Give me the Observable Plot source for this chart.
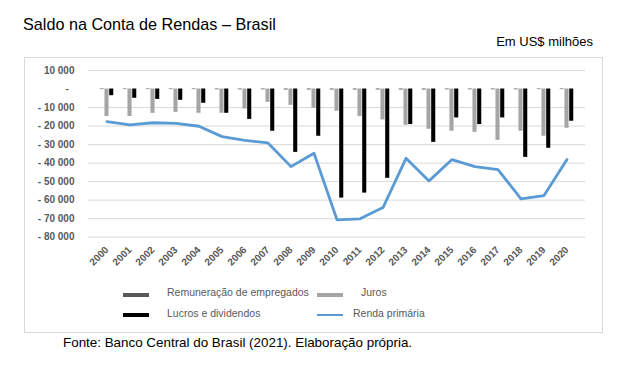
<!DOCTYPE html>
<html>
<head>
<meta charset="utf-8">
<script src="https://cdn.jsdelivr.net/npm/d3@7"></script>
<script src="https://cdn.jsdelivr.net/npm/@observablehq/plot@0.6"></script>
<style>
  html, body { margin: 0; padding: 0; background: #fff; }
  body { width: 624px; height: 367px; position: relative; overflow: hidden; font-family: "Liberation Sans", Arial, sans-serif; }
  .t { position: absolute; line-height: 1; white-space: nowrap; }
  .box { position: absolute; left: 24px; top: 57px; width: 577px; height: 274px; border: 1px solid #d9d9d9; }
  .sw { position: absolute; }
  #chart { position: absolute; left: 0; top: 57px; }
</style>
</head>
<body>
<div class="box"></div>
<div class="t" style="left:23px; top:15.5px; font-size:16.2px; color:#000;">Saldo na Conta de Rendas – Brasil</div>
<div class="t" style="right:31px; top:34.7px; font-size:13px; color:#000;">Em US$ milhões</div>
<div id="chart"></div>
<div id="legend"></div>
<div class="t" style="left:63px; top:335.5px; font-size:13.4px; color:#000;">Fonte: Banco Central do Brasil (2021). Elaboração própria.</div>
<script>
const years = ["2000","2001","2002","2003","2004","2005","2006","2007","2008","2009","2010","2011","2012","2013","2014","2015","2016","2017","2018","2019","2020"];
const seriesNames = ["Remuneração de empregados", "Juros", "Lucros e dividendos"];
const remuneracao = [-300,-300,-300,-300,-300,-400,-400,-400,-500,-500,-500,-500,-500,-500,-500,-400,-400,-400,-400,-300,-300];
const juros = [-14800,-14800,-13100,-12600,-13100,-13100,-10800,-7200,-8800,-10400,-12000,-14800,-16700,-19600,-21700,-22800,-23400,-27700,-22800,-25500,-21200];
const lucros = [-3600,-5000,-5600,-6100,-7700,-13100,-16400,-22800,-34200,-25500,-58900,-56200,-48200,-19200,-28800,-15600,-19200,-15600,-36900,-32000,-17400];
const rendaPrimaria = [-17600,-19400,-18200,-18500,-20100,-25700,-27700,-29100,-41900,-34700,-70600,-70100,-64000,-37400,-49600,-38100,-41900,-43500,-59300,-57500,-38100];
const yTicks = [10000,0,-10000,-20000,-30000,-40000,-50000,-60000,-70000,-80000];
const colors = ["#595959", "#a5a5a5", "#000000"];
const lineColor = "#5b9bd5";

const seriesValues = [remuneracao, juros, lucros];
const bars = [];
seriesValues.forEach((vals, s) => vals.forEach((v, i) => bars.push({year: years[i], series: seriesNames[s], s, value: v})));
const line = years.map((y, i) => ({year: y, value: rendaPrimaria[i]}));

const loc = d3.formatLocale({thousands: " ", grouping: [3], decimal: ",", currency: ["", ""]});
const fmt = loc.format(",d");
const tickFmt = v => v === 0 ? "-\u2007" : v > 0 ? fmt(v) : "- " + fmt(-v);

const W = 624, left = 88, right = 585;
const bw = (right - left) / years.length;
const w = bw / 5;

const marks = [
  Plot.gridY(yTicks.filter(d => d !== 0), {stroke: "#d9d9d9", strokeOpacity: 1, strokeWidth: 1}),
  ...[0,1,2].map(s => Plot.barY(bars.filter(d => d.s === s), {
    x: "year", y: "value", fill: colors[s],
    insetLeft: (1 + s) * w, insetRight: (3 - s) * w
  })),
  Plot.line(line, {x: "year", y: "value", stroke: lineColor, strokeWidth: 2.8, strokeLinejoin: "round"}),
  Plot.axisY({ticks: yTicks, tickFormat: tickFmt, tickSize: 0, tickPadding: 14, fontSize: 10, fontWeight: "bold", fill: "#595959"}),
  Plot.axisX({tickRotate: -45, tickSize: 0, tickPadding: 11, fontSize: 10, fontWeight: "bold", fill: "#595959"})
];

const chart = Plot.plot({
  width: W, height: 215,
  marginLeft: left, marginRight: W - right, marginTop: 13, marginBottom: 35.3,
  style: {fontFamily: "'Liberation Sans', Arial, sans-serif", fontSize: "10px", background: "transparent", overflow: "visible"},
  x: {type: "band", domain: years, padding: 0, label: null},
  y: {domain: [-80000, 10000], label: null},
  marks
});
document.getElementById("chart").appendChild(chart);

// Legend
const leg = document.getElementById("legend");
const items = [
  {name: seriesNames[0], kind: "rect", color: colors[0], sx: 123, tx: 167, row: 0},
  {name: seriesNames[1], kind: "rect", color: colors[1], sx: 317, tx: 361, row: 0},
  {name: seriesNames[2], kind: "rect", color: colors[2], sx: 123, tx: 167, row: 1},
  {name: "Renda primária", kind: "line", color: lineColor, sx: 317, tx: 353, row: 1}
];
items.forEach(it => {
  const rowTop = it.row === 0 ? 287 : 307.6;
  const sw = document.createElement("div");
  sw.className = "sw";
  sw.style.left = it.sx + "px";
  sw.style.width = "26px";
  sw.style.background = it.color;
  if (it.kind === "rect") { sw.style.top = (rowTop + 5.5) + "px"; sw.style.height = "4px"; }
  else { sw.style.top = (rowTop + 6) + "px"; sw.style.height = "2.5px"; }
  leg.appendChild(sw);
  const t = document.createElement("div");
  t.className = "t";
  t.style.left = it.tx + "px";
  t.style.top = rowTop + "px";
  t.style.fontSize = "10.5px";
  t.style.color = "#595959";
  t.textContent = it.name;
  leg.appendChild(t);
});
</script>
</body>
</html>
